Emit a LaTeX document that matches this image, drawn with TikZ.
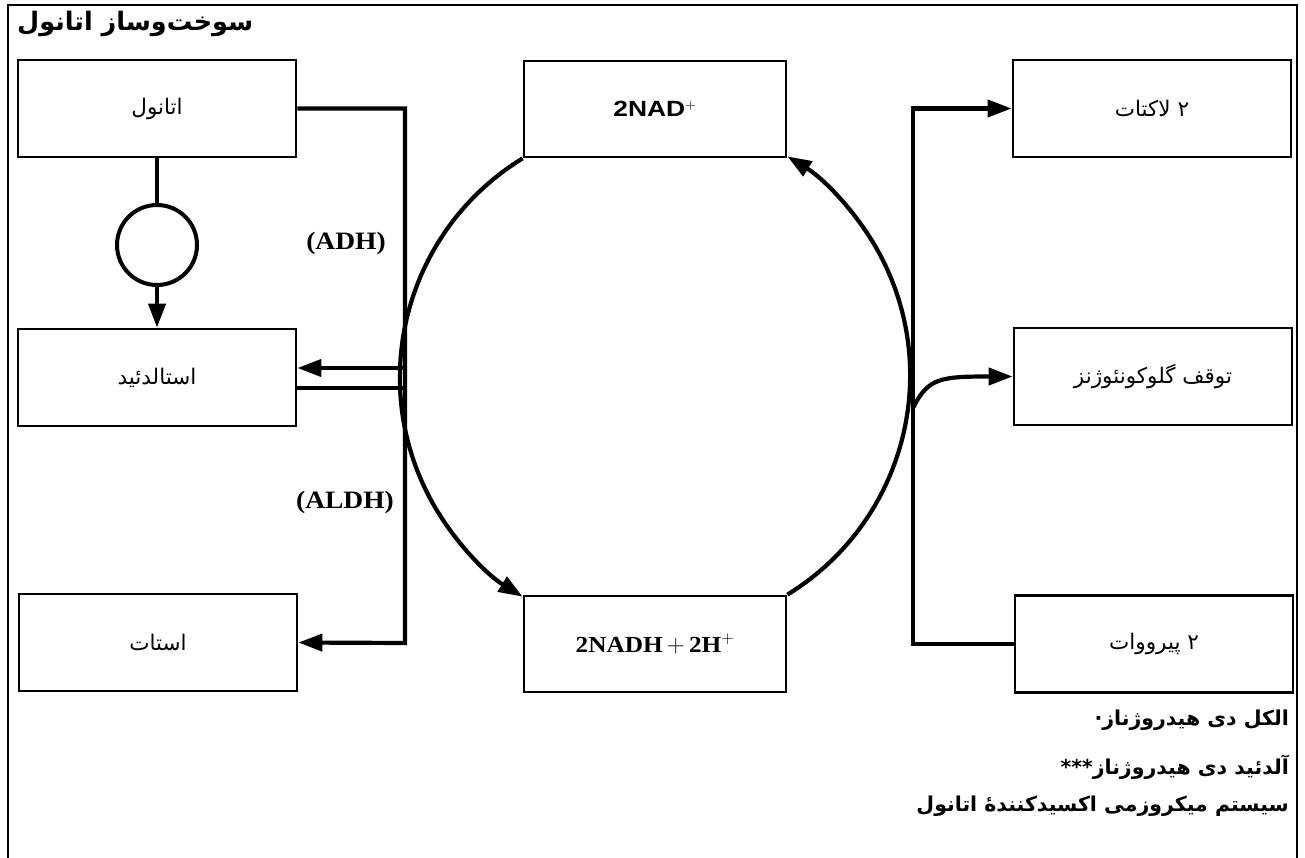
\documentclass[tikz,border=0pt]{standalone}
\usepackage{fontspec}
\usetikzlibrary{arrows.meta}
\TeXXeTstate=1
\newfontfamily\fa[Script=Arabic]{DejaVu Sans}
\newfontfamily\lsans[FakeStretch=1.2]{Liberation Sans}
\newfontfamily\lserif[FakeStretch=1.1]{Liberation Serif}
\tikzset{
  box/.style={draw, line width=2.8pt, minimum width=278pt, minimum height=97pt, inner sep=0pt},
  cbox/.style={draw, line width=2.8pt, minimum width=262pt, minimum height=96pt, inner sep=0pt},
  conn/.style={line width=4.2pt},
  arr/.style={line width=4.2pt, -{Triangle[length=24pt,width=17pt]}},
  fatxt/.style={font=\fa\fontsize{21.5}{24}\selectfont},
  foot/.style={font=\fa\bfseries\fontsize{20.5}{23}\selectfont, anchor=east, inner sep=0pt},
  enz/.style={font=\lserif\bfseries\fontsize{25}{28}\selectfont, inner sep=0pt}
}
\begin{document}
\begin{tikzpicture}[x=1pt,y=-1pt]
\useasboundingbox (0,0) rectangle (1305,858);
% frame
\draw[line width=2pt] (8,858) -- (8,5) -- (1297,5) -- (1297,858);
% title
\node[anchor=west, inner sep=0pt, font=\fa\bfseries\fontsize{25.5}{28}\selectfont] (title) at (17,24) {\beginR سوخت‌وساز اتانول\endR};
% left column
\node[box, fatxt] (eth) at (157,108.5) {\beginR اتانول\endR};
\node[box, fatxt] (acet) at (157,377.5) {\beginR استالدئید\endR};
\node[box, fatxt] (acetat) at (158,642.5) {\beginR استات\endR};
\node[draw, circle, line width=4pt, minimum size=80pt, inner sep=0pt] (circ) at (157,245) {};
% centre column
\node[cbox, font=\lsans\bfseries\fontsize{22}{25}\selectfont] (nad) at (655,109) {2NAD$^{+}$};
\node[cbox, font=\lserif\bfseries\fontsize{23}{26}\selectfont] (nadh) at (655,644) {2NADH$\,+\,$2H$^{+}$};
% right column
\node[box, fatxt] (lac) at (1152,108.5) {\beginR ۲ لاکتات\endR};
\node[box, fatxt] (gluco) at (1153,376.5) {\beginR توقف گلوکونئوژنز\endR};
\node[box, fatxt] (pyr) at (1154,644) {\beginR ۲ پیرووات\endR};
% enzyme labels
\node[enz] (adh) at (346,243) {(ADH)};
\node[enz] (aldh) at (345,502) {(ALDH)};
% footnotes
\node[foot] (f1) at (1289,720) {\beginR الکل دی هیدروژناز·\endR};
\node[foot] (f2) at (1289,767) {\beginR آلدئید دی هیدروژناز***\endR};
\node[foot] (f3) at (1289,806) {\beginR سیستم میکروزمی اکسیدکنندهٔ اتانول\endR};
% coordinates
\coordinate (lbot) at (405,643);
\coordinate (a1) at (405,368);
\coordinate (a2) at (405,388);
\coordinate (rtop) at (913,108.5);
\coordinate (gstart) at (913,408);
% left connectors
\draw[conn] (eth.south) -- (circ.north);
\draw[arr] (circ.south) -- (acet.north);
\draw[arr] (eth.east) -| (lbot) -- (acetat.east);
\draw[arr] (a1) -- (acet.east |- a1);
\draw[conn] (acet.east |- a2) -- (a2);
% cycle
\draw[arr] (nad.south west) arc[start angle=238.5, end angle=121.5, radius=257];
\draw[arr] (nadh.north east) arc[start angle=58.5, end angle=-58.5, radius=257];
% right connectors
\draw[arr] (pyr.west) -| (rtop) -- (lac.west);
\draw[arr] (gstart) .. controls (928,378) and (940,376.5) .. (gluco.west);
\end{tikzpicture}
\end{document}
